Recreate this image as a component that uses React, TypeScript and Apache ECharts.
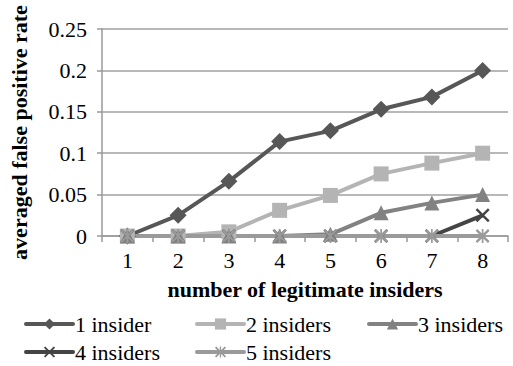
import React, { useEffect, useRef } from "react";
import * as echarts from "echarts";

const categories = ["1", "2", "3", "4", "5", "6", "7", "8"];
const seriesNames = ["1 insider", "2 insiders", "3 insiders", "4 insiders", "5 insiders"];
const insider1 = [0, 0.025, 0.066, 0.114, 0.127, 0.153, 0.168, 0.2];
const insider2 = [0, 0, 0.005, 0.031, 0.049, 0.075, 0.088, 0.1];
const insider3 = [0, 0, 0, 0, 0.002, 0.028, 0.04, 0.05];
const insider4 = [0, 0, 0, 0, 0, 0, 0, 0.025];
const insider5 = [0, 0, 0, 0, 0, 0, 0, 0];

const FONT = "Liberation Serif";

const X_SYMBOL =
  "path://M0,1.2L1.2,0L5,3.8L8.8,0L10,1.2L6.2,5L10,8.8L8.8,10L5,6.2L1.2,10L0,8.8L3.8,5Z";
const STAR_SYMBOL =
  "path://M0,1.2L1.2,0L5,3.8L8.8,0L10,1.2L6.2,5L10,8.8L8.8,10L5,6.2L1.2,10L0,8.8L3.8,5Z M4.4,0L5.6,0L5.6,10L4.4,10Z";

export default function App() {
  const ref = useRef<HTMLDivElement>(null);
  useEffect(() => {
    if (!ref.current) return;
    const chart = echarts.init(ref.current, undefined, { renderer: "svg" });
    const colors = ["#575757", "#b4b4b4", "#828282", "#444444", "#9a9a9a"];
    const data = [insider1, insider2, insider3, insider4, insider5];
    const symbols = ["diamond", "rect", "triangle", X_SYMBOL, STAR_SYMBOL];
    const sizes = [17, 15, 15, 14, 14];
    const legendPos = [
      [24, 313],
      [195, 313],
      [367, 313],
      [24, 341],
      [195, 341],
    ];
    chart.setOption({
      animation: false,
      backgroundColor: "#ffffff",
      textStyle: { fontFamily: FONT },
      grid: { left: 97, right: 5, top: 29, bottom: 130, containLabel: false },
      xAxis: {
        type: "category",
        data: categories,
        boundaryGap: true,
        name: "number of legitimate insiders",
        nameLocation: "middle",
        nameGap: 42,
        nameTextStyle: { fontFamily: FONT, fontSize: 22, fontWeight: "bold", color: "#000" },
        axisLine: { lineStyle: { color: "#999999", width: 1.5 } },
        axisTick: { show: true, alignWithLabel: false, length: 6, lineStyle: { color: "#999999", width: 1.5 } },
        axisLabel: { fontFamily: FONT, fontSize: 22, color: "#000", margin: 13 },
      },
      yAxis: {
        type: "value",
        min: 0,
        max: 0.25,
        interval: 0.05,
        name: "averaged false positive rate",
        nameLocation: "middle",
        nameGap: 72,
        nameRotate: 90,
        nameTextStyle: { fontFamily: FONT, fontSize: 22, fontWeight: "bold", color: "#000" },
        axisLine: { show: true, lineStyle: { color: "#999999", width: 1.5 } },
        axisTick: { show: true, length: 5, lineStyle: { color: "#999999", width: 1.5 } },
        axisLabel: { fontFamily: FONT, fontSize: 22, color: "#000", margin: 15 },
        splitLine: { show: true, lineStyle: { color: "#a0a0a0", width: 1.5 } },
      },
      legend: seriesNames.map((n, i) => ({
        data: [n],
        left: legendPos[i][0],
        top: legendPos[i][1],
        itemWidth: 47,
        itemHeight: 14,
        itemGap: 0,
        lineStyle: { width: 4, cap: "round" },
        textStyle: { fontFamily: FONT, fontSize: 22, color: "#000", padding: [0, 0, 0, -3] },
        padding: 0,
      })),
      series: seriesNames.map((n, i) => ({
        name: n,
        type: "line",
        data: data[i],
        symbol: symbols[i],
        symbolSize: sizes[i],
        showSymbol: true,
        color: colors[i],
        lineStyle: { color: colors[i], width: 4 },
        itemStyle: { color: colors[i] },
      })),
    });
    return () => chart.dispose();
  }, []);
  return <div ref={ref} style={{ width: 513, height: 366, position: "absolute", left: 0, top: 0 }} />;
}
